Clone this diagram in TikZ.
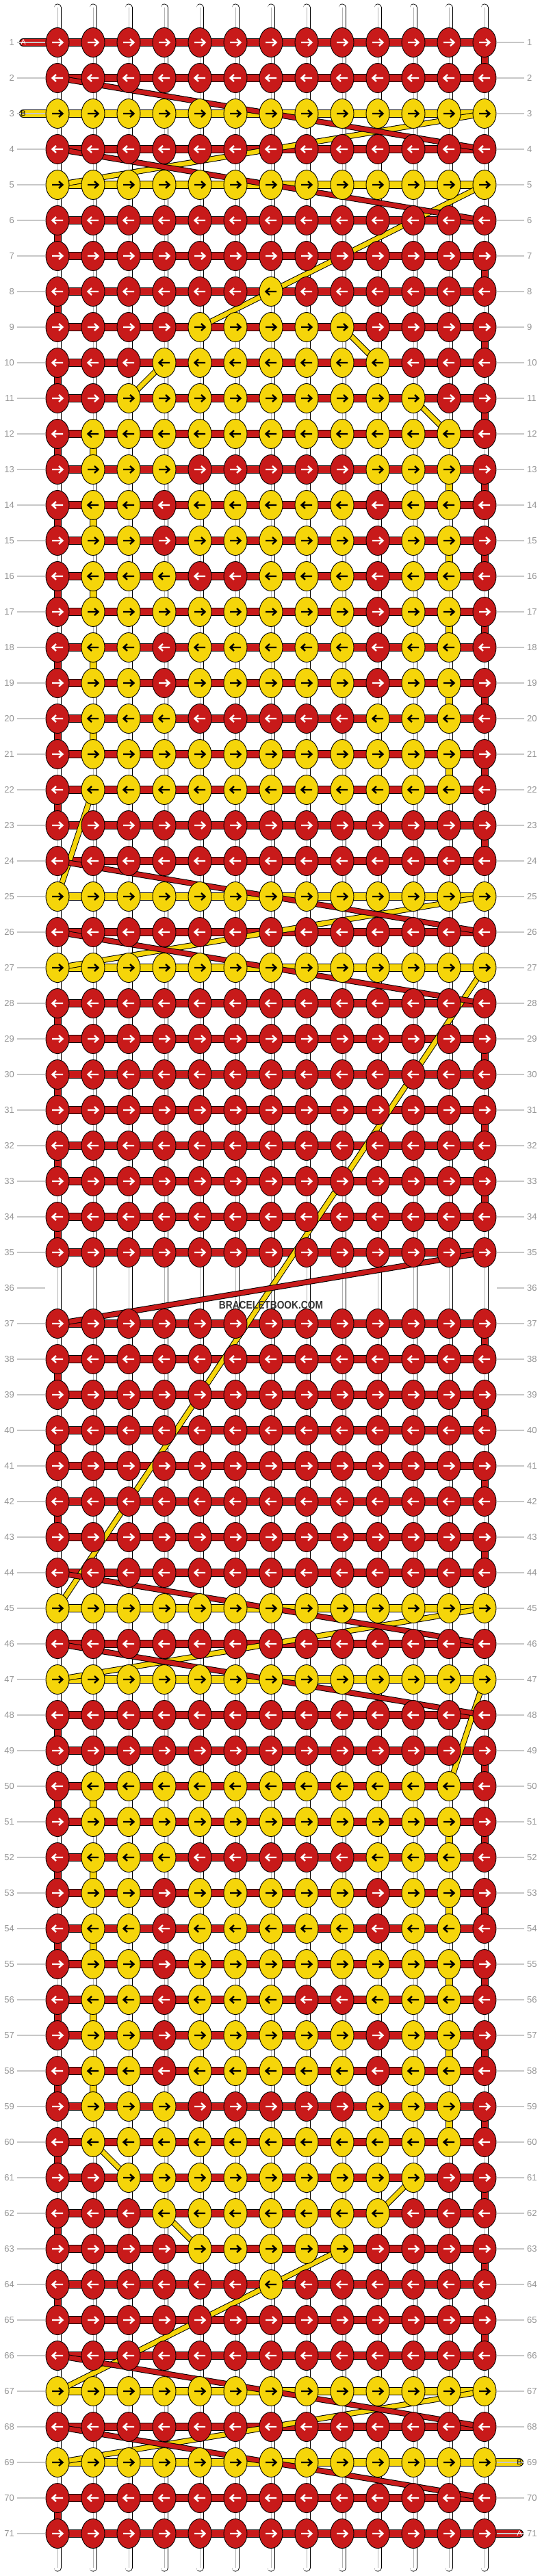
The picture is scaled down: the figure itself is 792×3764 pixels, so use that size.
\documentclass[tikz,border=0pt]{standalone}
\usepackage{fontspec}
\setmainfont{Liberation Sans}
\usepackage{graphicx}
\usetikzlibrary{shapes.geometric}
\definecolor{threadA}{RGB}{200,26,26}
\definecolor{threadB}{RGB}{245,213,10}
\pgfdeclarelayer{base}
\pgfdeclarelayer{band}
\pgfdeclarelayer{thread}
\pgfsetlayers{base,band,thread,main}

\def\pR{R,R,R,R,R,R,R,R,R,R,R,R,R}
\def\pY{Y,Y,Y,Y,Y,Y,Y,Y,Y,Y,Y,Y,Y}
\def\pDot{R,R,R,R,R,R,Y,R,R,R,R,R,R}
\def\pFive{R,R,R,R,Y,Y,Y,Y,Y,R,R,R,R}
\def\pSeven{R,R,R,Y,Y,Y,Y,Y,Y,Y,R,R,R}
\def\pNine{R,R,Y,Y,Y,Y,Y,Y,Y,Y,Y,R,R}
\def\pFull{R,Y,Y,Y,Y,Y,Y,Y,Y,Y,Y,Y,R}
\def\pBar{R,Y,Y,Y,R,R,R,R,R,Y,Y,Y,R}
\def\pSide{R,Y,Y,R,Y,Y,Y,Y,Y,R,Y,Y,R}
\def\pNotch{R,Y,Y,Y,R,R,Y,Y,Y,R,Y,Y,R}
\def\pNotchM{R,Y,Y,R,Y,Y,Y,R,R,Y,Y,Y,R}
\def\pOpen{R,Y,Y,Y,Y,Y,Y,Y,Y,R,Y,Y,R}
\def\pOpenM{R,Y,Y,R,Y,Y,Y,Y,Y,Y,Y,Y,R}

\tikzset{
  knot/.style={ellipse, draw=black, line width=0.9pt, minimum width=34pt, minimum height=43pt, inner sep=0pt},
  knotR/.style={knot, fill=threadA},
  knotY/.style={knot, fill=threadB},
  tipR/.style={white, line width=2.4pt},
  tipY/.style={black, line width=2.4pt},
  bandA/.style={draw=black, line width=1pt, double=threadA, double distance=10pt},
  bandB/.style={draw=black, line width=1pt, double=threadB, double distance=10pt},
  carryA/.style={draw=black, line width=1pt, double=threadA, double distance=6.5pt},
  carryB/.style={draw=black, line width=1pt, double=threadB, double distance=6.5pt},
  dropA/.style={draw=black, line width=1pt, double=threadA, double distance=9pt},
  dropB/.style={draw=black, line width=1pt, double=threadB, double distance=9pt},
  warp/.style={draw=black, line width=0.8pt, double=white, double distance=9.4pt, line cap=round},
  guide/.style={draw=black!22, line width=1.2pt},
  rownum/.style={text=black!42, font=\fontsize{13}{13}\selectfont, inner sep=0pt},
  tailtext/.style={font=\fontsize{11}{11}\selectfont, inner sep=0pt},
  brand/.style={text=black!80, font=\bfseries\fontsize{16}{16}\selectfont, inner sep=0pt}
}

\begin{document}
\begin{tikzpicture}[x=1pt,y=-1pt]
\useasboundingbox (0,0) rectangle (792,3764);
\foreach \col in {1,...,13}{
  \coordinate (top-\col) at (32+52*\col,11);
  \coordinate (bot-\col) at (32+52*\col,3752);
  \begin{pgfonlayer}{base}
    \draw[warp] (top-\col) -- (bot-\col);
    \draw[black!30, line width=0.5pt] (top-\col) -- (bot-\col);
  \end{pgfonlayer}
}
\foreach \row in {1,...,71}{
  \node[rownum, anchor=east] (numL-\row) at (21,10+52*\row) {\row};
  \node[rownum, anchor=west] (numR-\row) at (770,10+52*\row) {\row};
  \coordinate (gl-\row) at (66,10+52*\row);
  \coordinate (gr-\row) at (726,10+52*\row);
  \draw[guide] ([xshift=4pt]numL-\row.east) -- (gl-\row);
  \draw[guide] (gr-\row) -- ([xshift=-4pt]numR-\row.west);
}
\foreach \row/\pat/\bl/\br in {1/\pR/0/0, 2/\pR/0/0, 3/\pY/1/13, 4/\pR/0/0, 5/\pY/1/13, 6/\pR/0/0,
  7/\pR/0/0, 8/\pDot/7/7, 9/\pFive/5/9, 10/\pSeven/4/10, 11/\pNine/3/11, 12/\pFull/2/12,
  13/\pBar/2/12, 14/\pSide/2/12, 15/\pSide/2/12, 16/\pNotch/2/12, 17/\pOpen/2/12, 18/\pSide/2/12,
  19/\pSide/2/12, 20/\pBar/2/12, 21/\pFull/2/12, 22/\pFull/2/12, 23/\pR/0/0, 24/\pR/0/0,
  25/\pY/1/13, 26/\pR/0/0, 27/\pY/1/13, 28/\pR/0/0, 29/\pR/0/0, 30/\pR/0/0, 31/\pR/0/0,
  32/\pR/0/0, 33/\pR/0/0, 34/\pR/0/0, 35/\pR/0/0,
  37/\pR/0/0, 38/\pR/0/0, 39/\pR/0/0, 40/\pR/0/0, 41/\pR/0/0, 42/\pR/0/0, 43/\pR/0/0,
  44/\pR/0/0, 45/\pY/1/13, 46/\pR/0/0, 47/\pY/1/13, 48/\pR/0/0, 49/\pR/0/0, 50/\pFull/2/12,
  51/\pFull/2/12, 52/\pBar/2/12, 53/\pSide/2/12, 54/\pSide/2/12, 55/\pOpenM/2/12,
  56/\pNotchM/2/12, 57/\pSide/2/12, 58/\pSide/2/12, 59/\pBar/2/12, 60/\pFull/2/12,
  61/\pNine/3/11, 62/\pSeven/4/10, 63/\pFive/5/9, 64/\pDot/7/7, 65/\pR/0/0, 66/\pR/0/0,
  67/\pY/1/13, 68/\pR/0/0, 69/\pY/1/13, 70/\pR/0/0, 71/\pR/0/0}{
  \edef\cur{\pat}
  \pgfmathsetmacro\dir{mod(\row,2)==1 ? 1 : -1}
  \foreach \kc [count=\col] in \cur {
    \node[knot\kc] (kn-\row-\col) at (32+52*\col,10+52*\row) {};
    \draw[tip\kc] (kn-\row-\col.center) ++(-8*\dir,0) -- ++(15.5*\dir,0)
      ++(-5.5*\dir,-5) -- ++(5.5*\dir,5) -- ++(-5.5*\dir,5);
  }
  \begin{pgfonlayer}{band}
    \ifnum\bl>0 \draw[bandB] (kn-\row-\bl.center) -- (kn-\row-\br.center); \fi
    \ifnum\bl=1 \else \draw[bandA] (kn-\row-1.center) -- (kn-\row-13.center); \fi
  \end{pgfonlayer}
}
\coordinate (endA1) at (34,62);
\coordinate (endB1) at (34,166);
\coordinate (endB2) at (759,3598);
\coordinate (endA2) at (759,3702);
\begin{pgfonlayer}{band}
  \draw[bandA, line cap=round] (endA1) -- (kn-1-1.center);
  \draw[bandB, line cap=round] (endB1) -- (kn-3-1.center);
  \draw[bandB, line cap=round] (kn-69-13.center) -- (endB2);
  \draw[bandA, line cap=round] (kn-71-13.center) -- (endA2);
\end{pgfonlayer}
\node[tailtext, text=white] (tagA1) at (endA1) {A};
\node[tailtext, text=black] (tagB1) at (endB1) {B};
\node[tailtext, text=black] (tagB2) at (endB2) {B};
\node[tailtext, text=white] (tagA2) at (endA2) {A};
\begin{pgfonlayer}{thread}
  \foreach \ra/\ca/\rb/\cb in {3/13/5/1, 5/13/8/7, 8/7/9/5, 9/9/10/10, 10/4/11/3, 11/11/12/12,
    22/2/25/1, 25/13/27/1, 27/13/45/1, 45/13/47/1, 47/13/50/12, 60/2/61/3, 61/11/62/10,
    62/4/63/5, 63/9/64/7, 64/7/67/1, 67/13/69/1}
    \draw[carryB] (kn-\ra-\ca.center) -- (kn-\rb-\cb.center);
  \foreach \row in {12,13,...,21,50,51,...,59}{
    \pgfmathtruncatemacro\cc{mod(\row,2)==0 ? 2 : 12}
    \pgfmathtruncatemacro\rn{\row+1}
    \draw[dropB] (kn-\row-\cc.center) -- (kn-\rn-\cc.center);
  }
  \foreach \ra/\ca/\rb/\cb in {2/1/4/13, 4/1/6/13, 24/1/26/13, 26/1/28/13, 35/13/37/1,
    44/1/46/13, 46/1/48/13, 66/1/68/13, 68/1/70/13}
    \draw[carryA] (kn-\ra-\ca.center) -- (kn-\rb-\cb.center);
  \foreach \row in {1,6,7,...,23,28,29,...,34,37,38,...,43,48,49,...,65,70}{
    \pgfmathtruncatemacro\cc{mod(\row,2)==1 ? 13 : 1}
    \pgfmathtruncatemacro\rn{\row+1}
    \draw[dropA] (kn-\row-\cc.center) -- (kn-\rn-\cc.center);
  }
\end{pgfonlayer}
\node[brand] (site) at (396,1907) {\scalebox{0.86}[1]{BRACELETBOOK.COM}};
\end{tikzpicture}
\end{document}
